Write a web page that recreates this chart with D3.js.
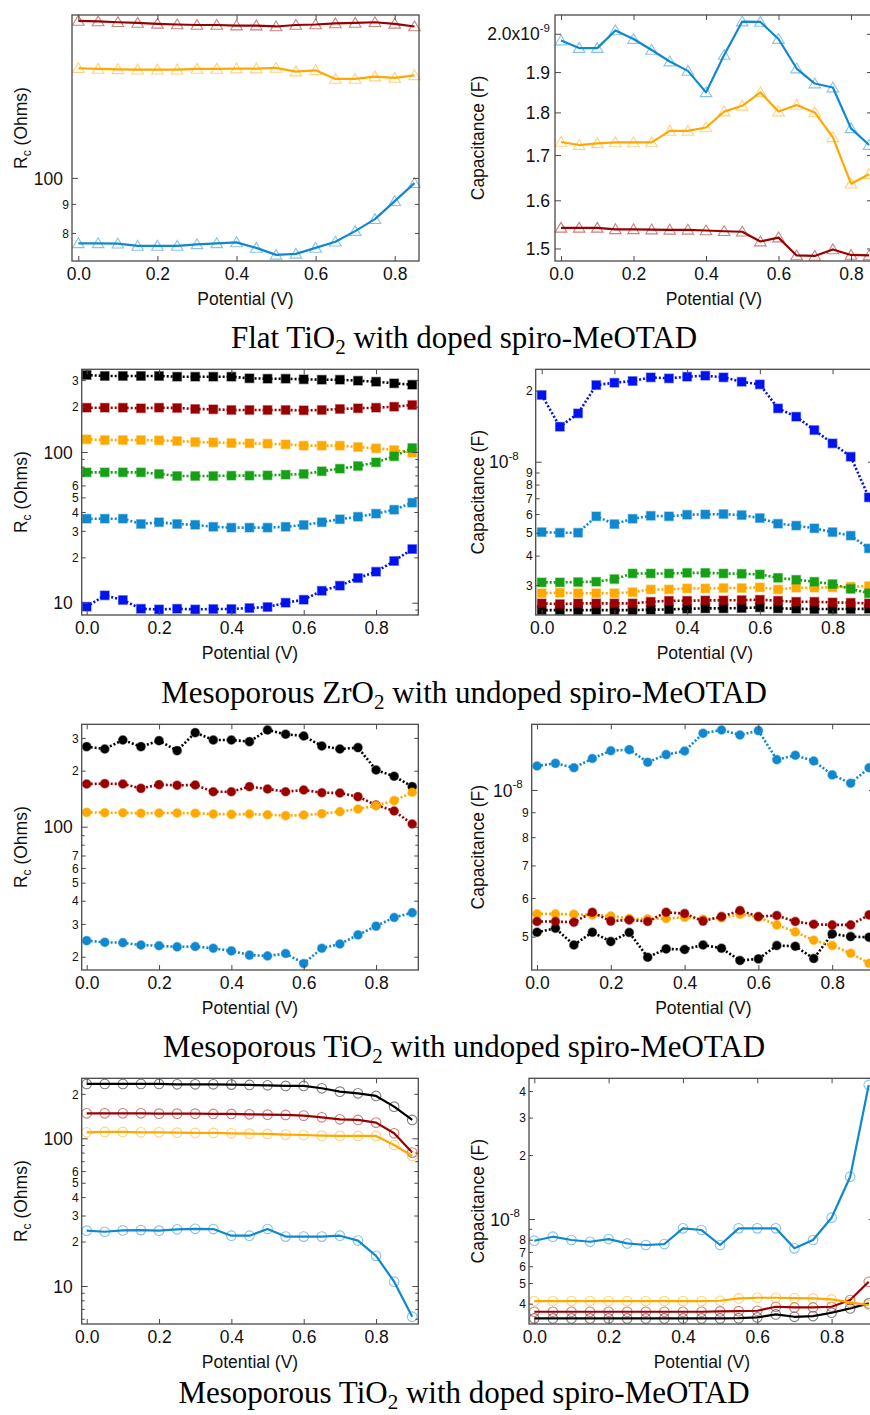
<!DOCTYPE html>
<html>
<head>
<meta charset="utf-8">
<script src="https://cdn.jsdelivr.net/npm/d3@7"></script>
<style>
body{margin:0;background:#fff;}
svg{display:block;font-family:"Liberation Sans",Arial,Helvetica,sans-serif;}
</style>
</head>
<body>
<svg id="fig" width="870" height="1415"></svg>
<script>
// potential steps (V)
var potentialFlat = [0.00,0.05,0.10,0.15,0.20,0.25,0.30,0.35,0.40,0.45,0.50,0.55,0.60,0.65,0.70,0.75,0.80,0.85];
var potentialMeso = [0.00,0.05,0.10,0.15,0.20,0.25,0.30,0.35,0.40,0.45,0.50,0.55,0.60,0.65,0.70,0.75,0.80,0.85,0.90];
var xTickValues = [0,0.2,0.4,0.6,0.8];

// flat TiO2, doped spiro : Rc (Ohms) and capacitance (nF)
var flatRcRed    = [189.0,188.6,188.0,187.5,186.8,186.3,185.9,185.9,185.5,185.5,184.8,185.9,186.3,187.1,187.5,188.0,186.8,184.8];
var flatRcOrange = [156.0,155.6,155.3,155.1,155.1,155.1,155.6,155.6,155.8,155.8,156.2,153.9,154.7,149.4,149.4,150.8,150.0,151.6];
var flatRcBlue   = [76.7,76.7,76.6,75.9,75.9,75.9,76.4,76.7,77.0,75.3,73.2,73.5,75.3,77.2,80.6,84.6,91.0,97.9];
var flatCapBlue   = [1.982,1.962,1.962,2.009,1.986,1.957,1.927,1.903,1.849,1.944,2.033,2.032,1.986,1.909,1.871,1.861,1.762,1.723];
var flatCapOrange = [1.730,1.723,1.727,1.729,1.729,1.729,1.756,1.756,1.764,1.802,1.816,1.849,1.802,1.818,1.800,1.741,1.636,1.657];
var flatCapRed    = [1.542,1.542,1.542,1.539,1.539,1.5385,1.538,1.538,1.5365,1.535,1.534,1.514,1.522,1.486,1.485,1.498,1.487,1.486];

// mesoporous ZrO2, undoped spiro
var zrRcBlack  = [324.3,319.4,319.4,319.4,319.4,316.0,316.0,316.0,316.0,308.3,306.4,306.4,303.6,301.8,301.8,297.2,292.7,285.6,279.6];
var zrRcRed    = [196.8,196.8,196.8,195.0,196.8,195.9,192.9,192.0,190.0,190.0,190.0,190.0,189.1,190.0,192.9,195.0,196.8,199.7,205.0];
var zrRcOrange = [121.4,120.1,120.1,120.1,119.5,118.3,116.5,115.9,114.7,114.2,113.6,112.4,110.2,110.2,110.2,107.9,105.8,103.1,99.0];
var zrRcGreen  = [73.3,73.3,73.3,73.3,71.5,69.3,69.3,69.3,69.7,69.7,70.0,70.7,71.5,74.5,77.5,80.7,85.4,93.6,106.3];
var zrRcLBlue  = [36.1,36.1,36.1,33.3,34.2,33.3,32.9,31.9,31.5,31.5,31.5,31.9,32.8,34.2,35.8,37.2,39.0,41.4,46.1];
var zrRcBlue   = [9.41,11.19,10.42,9.12,9.03,9.12,9.03,9.08,9.08,9.22,9.36,10.0,10.47,12.0,12.97,14.58,16.06,18.91,22.7];
var zrCapBlue   = [19.18,14.07,16.03,21.13,21.62,21.98,22.78,22.56,22.93,23.16,22.78,21.83,21.27,16.83,15.52,13.62,11.96,10.50,7.06];
var zrCapLBlue  = [5.03,5.00,5.00,5.87,5.44,5.73,5.90,5.87,5.96,5.98,6.00,5.94,5.77,5.46,5.36,5.22,5.03,4.86,4.29];
var zrCapGreen  = [3.08,3.08,3.09,3.10,3.18,3.36,3.36,3.36,3.38,3.38,3.36,3.35,3.33,3.22,3.16,3.10,3.03,2.89,2.77];
var zrCapOrange = [2.77,2.785,2.77,2.77,2.77,2.80,2.875,2.875,2.904,2.904,2.914,2.914,2.933,2.875,2.924,2.924,2.933,2.952,2.971];
var zrCapRed    = [2.509,2.492,2.509,2.509,2.509,2.509,2.549,2.574,2.574,2.583,2.583,2.591,2.600,2.574,2.549,2.549,2.533,2.525,2.509];
var zrCapBlack  = [2.350,2.350,2.350,2.350,2.350,2.350,2.358,2.366,2.381,2.389,2.389,2.397,2.413,2.389,2.381,2.374,2.374,2.374,2.381];

// mesoporous TiO2, undoped spiro
var tiuRcBlack  = [269.2,261.5,292.4,269.2,290.0,256.2,320.1,292.4,292.4,286.4,330.9,313.6,307.3,271.4,261.5,266.0,201.7,186.5,164.1];
var tiuRcRed    = [169.6,170.3,169.6,160.7,168.2,166.8,167.5,154.2,154.2,164.1,159.4,154.2,157.4,152.3,151.7,145.0,130.8,121.4,103.3];
var tiuRcOrange = [119.4,118.9,118.9,118.0,118.4,118.4,118.0,117.0,116.5,117.0,116.0,114.6,115.5,117.5,120.4,124.5,129.7,138.0,153.0];
var tiuRcLBlue  = [24.4,23.9,23.8,23.1,22.9,22.6,22.7,22.2,21.5,20.4,20.2,20.8,18.4,22.2,23.4,26.2,29.2,32.5,34.5];
var tiuCapLBlue  = [11.20,11.34,11.11,11.60,12.04,12.10,11.40,11.82,12.02,13.07,13.28,12.97,13.24,11.54,11.78,11.47,10.74,10.32,11.11];
var tiuCapRed    = [5.37,5.37,5.35,5.61,5.38,5.41,5.37,5.61,5.575,5.38,5.497,5.655,5.497,5.523,5.37,5.30,5.284,5.284,5.541];
var tiuCapOrange = [5.566,5.566,5.556,5.541,5.512,5.445,5.436,5.445,5.479,5.428,5.461,5.556,5.479,5.284,5.112,4.915,4.793,4.622,4.409];
var tiuCapBlack  = [5.104,5.200,4.806,5.104,4.884,5.097,4.536,4.718,4.704,4.806,4.733,4.465,4.500,4.793,4.778,4.507,5.065,5.000,4.985];

// mesoporous TiO2, doped spiro
var tidRcBlack  = [233.3,233.3,233.3,233.3,233.3,232.1,232.1,232.1,230.9,229.7,228.5,226.1,226.1,218.1,207.0,201.7,193.5,163.8,133.1];
var tidRcRed    = [147.7,147.7,147.7,147.7,146.9,146.9,146.9,146.2,146.2,145.4,144.6,143.9,142.4,138.7,134.5,133.1,127.7,108.1,80.0];
var tidRcOrange = [109.8,110.4,110.4,109.8,109.8,109.2,108.7,108.7,108.1,107.5,107.0,105.9,105.3,104.2,103.7,103.7,103.7,90.1,75.9];
var tidRcLBlue  = [23.7,23.3,23.8,23.9,23.7,24.2,24.4,24.3,21.9,21.9,24.3,21.6,21.6,21.6,21.9,20.3,16.0,10.7,6.2];
var tidCapLBlue  = [7.91,8.26,7.97,7.82,8.05,7.68,7.55,7.63,9.04,8.88,7.55,9.04,9.04,9.04,7.28,7.97,10.15,15.82,42.7];
var tidCapOrange = [4.114,4.114,4.114,4.114,4.114,4.114,4.114,4.114,4.114,4.114,4.129,4.234,4.266,4.266,4.250,4.234,4.189,4.055,3.940];
var tidCapRed    = [3.665,3.665,3.665,3.665,3.665,3.665,3.665,3.665,3.665,3.665,3.680,3.690,3.705,3.869,3.841,3.841,3.869,4.159,5.073];
var tidCapBlack  = [3.410,3.410,3.410,3.410,3.410,3.410,3.410,3.410,3.410,3.410,3.410,3.420,3.447,3.560,3.471,3.497,3.626,3.801,4.012];

// y tick values and their labels
var flatRcTicks = [80,90,100];
var flatRcLabels = ['8','9','100'];
var flatCapTicks = [1.5,1.6,1.7,1.8,1.9,2.0];
var flatCapLabels = ['1.5','1.6','1.7','1.8','1.9','2.0x10^-9'];
var zrRcTicks = [9,10,20,30,40,50,60,70,80,90,100,200,300];
var zrRcLabels = ['','10','2','3','4','5','6','','','','100','2','3'];
var zrCapTicks = [3,4,5,6,7,8,9,10,20];
var zrCapLabels = ['3','4','5','6','7','8','9','10^-8','2'];
var tiuRcTicks = [20,30,40,50,60,70,80,90,100,200,300];
var tiuRcLabels = ['2','3','4','5','6','7','','','100','2','3'];
var tiuCapTicks = [5,6,7,8,9,10];
var tiuCapLabels = ['5','6','7','8','9','10^-8'];
var tidRcTicks = [6,7,8,9,10,20,30,40,50,60,70,80,90,100,200];
var tidRcLabels = ['','','','','10','2','3','4','5','6','','','','100','2'];
var tidCapTicks = [4,5,6,7,8,9,10,20,30,40];
var tidCapLabels = ['4','5','6','7','8','','10^-8','2','3','4'];

var titles = [
  ['Flat TiO','2',' with doped spiro-MeOTAD'],
  ['Mesoporous ZrO','2',' with undoped spiro-MeOTAD'],
  ['Mesoporous TiO','2',' with undoped spiro-MeOTAD'],
  ['Mesoporous TiO','2',' with doped spiro-MeOTAD']
];

var colors = {red:'#990000', orange:'#ffa800', lblue:'#1088cf', blue:'#0012ee', green:'#15a015', black:'#000000'};

var panels = [
  {box:[72,15,419,261], xdom:[-0.016,0.8614], ydom:[71.4,193.6], ticks:flatRcTicks, labels:flatRcLabels, gap:9, ytitle:'rc', tshift:-10,
   marker:'tri', dash:null, x:potentialFlat, series:[['red',flatRcRed],['orange',flatRcOrange],['lblue',flatRcBlue]]},
  {box:[555,15,873,261], xdom:[-0.0166,0.8607], ydom:[1.475,2.051], ticks:flatCapTicks, labels:flatCapLabels, gap:5, ytitle:'cap',
   marker:'tri', dash:null, x:potentialFlat, series:[['lblue',flatCapBlue],['orange',flatCapOrange],['red',flatCapRed]]},
  {box:[81.7,369.3,418.3,615], xdom:[-0.0138,0.9168], ydom:[8.29,353.8], ticks:zrRcTicks, labels:zrRcLabels, gap:9, ytitle:'rc',
   marker:'sq', dash:'2,2', x:potentialMeso, series:[['black',zrRcBlack],['red',zrRcRed],['orange',zrRcOrange],['green',zrRcGreen],['lblue',zrRcLBlue],['blue',zrRcBlue]]},
  {box:[535.7,369.3,874,615], xdom:[-0.0165,0.914], ydom:[2.24,24.65], ticks:zrCapTicks, labels:zrCapLabels, gap:17, ytitle:'cap',
   marker:'sq', dash:'2,2', x:potentialMeso, series:[['black',zrCapBlack],['red',zrCapRed],['orange',zrCapOrange],['green',zrCapGreen],['lblue',zrCapLBlue],['blue',zrCapBlue]]},
  {box:[81.7,724.3,418.3,970], xdom:[-0.0138,0.9168], ydom:[16.97,355], ticks:tiuRcTicks, labels:tiuRcLabels, gap:9, ytitle:'rc',
   marker:'dot', dash:'2,2', x:potentialMeso, series:[['black',tiuRcBlack],['red',tiuRcRed],['orange',tiuRcOrange],['lblue',tiuRcLBlue]]},
  {box:[531.7,724.3,875,970], xdom:[-0.01436,0.916], ydom:[4.27,13.64], ticks:tiuCapTicks, labels:tiuCapLabels, gap:9, ytitle:'cap',
   marker:'dot', dash:'2,2', x:potentialMeso, series:[['black',tiuCapBlack],['orange',tiuCapOrange],['red',tiuCapRed],['lblue',tiuCapLBlue]]},
  {box:[81.7,1078.3,418.3,1324], xdom:[-0.0138,0.9168], ydom:[5.53,254.8], ticks:tidRcTicks, labels:tidRcLabels, gap:9, ytitle:'rc',
   marker:'ring', dash:null, x:potentialMeso, series:[['black',tidRcBlack],['red',tidRcRed],['orange',tidRcOrange],['lblue',tidRcLBlue]]},
  {box:[529,1078.3,874.7,1324], xdom:[-0.01426,0.916], ydom:[3.21,45.9], ticks:tidCapTicks, labels:tidCapLabels, gap:9, ytitle:'cap',
   marker:'ring', dash:null, x:potentialMeso, series:[['black',tidCapBlack],['red',tidCapRed],['orange',tidCapOrange],['lblue',tidCapLBlue]]}
];

var titleBaselines = [348,703,1057,1403];

var svg = d3.select('#fig');
var axisColor = '#4a4a4a';

function styleTicks(sel){
  sel.select('.domain').remove();
  sel.selectAll('.tick line').attr('stroke',axisColor).attr('stroke-width',1);
  sel.attr('font-family',null).attr('font-size',null);
}

panels.forEach(function(p){
  var left = p.box[0], top = p.box[1], right = p.box[2], bottom = p.box[3];
  var g = svg.append('g');
  var x = d3.scaleLinear().domain(p.xdom).range([left,right]);
  var y = d3.scaleLog().domain(p.ydom).range([bottom,top]);

  // series: line then markers
  p.series.forEach(function(s){
    var col = colors[s[0]];
    var pts = s[1].map(function(v,i){return [p.x[i],v];});
    var line = d3.line().x(function(d){return x(d[0]);}).y(function(d){return y(d[1]);});
    g.append('path').datum(pts)
      .attr('d',line).attr('fill','none').attr('stroke',col)
      .attr('stroke-width',p.dash ? 2.6 : 2.2)
      .attr('stroke-dasharray',p.dash)
      .attr('stroke-linejoin','round');
    var m = g.selectAll(null).data(pts).enter();
    if (p.marker=='tri') {
      m.append('path').attr('d','M0,-5.5L5.8,4.3L-5.8,4.3Z')
        .attr('transform',function(d){return 'translate('+x(d[0])+','+y(d[1])+')';})
        .attr('fill','none').attr('stroke',col).attr('stroke-opacity',0.5).attr('stroke-width',1.1);
    } else if (p.marker=='sq') {
      m.append('rect').attr('x',function(d){return x(d[0])-4.3;}).attr('y',function(d){return y(d[1])-4.3;})
        .attr('width',8.6).attr('height',8.6)
        .attr('fill',col).attr('stroke',col).attr('stroke-opacity',0.45).attr('stroke-width',1.4);
    } else if (p.marker=='dot') {
      m.append('circle').attr('cx',function(d){return x(d[0]);}).attr('cy',function(d){return y(d[1]);})
        .attr('r',4.3).attr('fill',col).attr('stroke',col).attr('stroke-opacity',0.45).attr('stroke-width',1.4);
    } else {
      m.append('circle').attr('cx',function(d){return x(d[0]);}).attr('cy',function(d){return y(d[1]);})
        .attr('r',4.8).attr('fill','none').attr('stroke',col).attr('stroke-opacity',0.5).attr('stroke-width',1.1);
    }
  });

  // frame
  g.append('rect').attr('x',left).attr('y',top).attr('width',right-left).attr('height',bottom-top)
    .attr('fill','none').attr('stroke',axisColor).attr('stroke-width',1.3);

  // x axes, ticks pointing inward
  var xb = g.append('g').attr('transform','translate(0,'+bottom+')')
    .call(d3.axisBottom(x).tickValues(xTickValues).tickFormat(d3.format('.1f')).tickSizeInner(-5).tickSizeOuter(0).tickPadding(7));
  styleTicks(xb);
  xb.selectAll('.tick text').attr('font-size',17.5).attr('fill','#111');
  var xt = g.append('g').attr('transform','translate(0,'+top+')')
    .call(d3.axisTop(x).tickValues(xTickValues).tickFormat('').tickSizeInner(-5).tickSizeOuter(0));
  styleTicks(xt);

  // y axes
  var yl = g.append('g').attr('transform','translate('+left+',0)')
    .call(d3.axisLeft(y).tickValues(p.ticks).tickFormat('').tickSizeInner(-4).tickSizeOuter(0));
  styleTicks(yl);
  var yr = g.append('g').attr('transform','translate('+right+',0)')
    .call(d3.axisRight(y).tickValues(p.ticks).tickFormat('').tickSizeInner(-4).tickSizeOuter(0));
  styleTicks(yr);

  [yl,yr].forEach(function(ax,k){
    ax.selectAll('.tick line').attr('x2',function(d){
      var lab = p.labels[p.ticks.indexOf(d)];
      var len = lab.length>1 ? 6 : (lab ? 4 : 3);
      return k==0 ? len : -len;
    });
  });

  yl.selectAll('.tick text').each(function(d){
    var lab = p.labels[p.ticks.indexOf(d)];
    var t = d3.select(this).attr('fill','#111').attr('dy','0.35em');
    if (!lab) return;
    var big = lab.length>1;
    t.attr('x',-(big ? p.gap : 3)).attr('font-size',big ? 17.5 : 12);
    var parts = lab.split('^');
    t.text(parts[0]);
    if (parts[1]) t.append('tspan').attr('font-size',11.5).attr('dy','-0.75em').text(parts[1]);
  });

  // y title
  var cx = left < 300 ? 21 : 478;
  var cy = (top+bottom)/2 + (p.tshift||0);
  var yt = g.append('text').attr('transform','translate('+cx+','+cy+') rotate(-90)')
    .attr('text-anchor','middle').attr('dy','0.35em').attr('font-size',17.5).attr('fill','#111');
  if (p.ytitle=='rc') {
    yt.text('R');
    yt.append('tspan').attr('font-size',12).attr('dy',4).text('c');
    yt.append('tspan').attr('dy',-4).text(' (Ohms)');
  } else {
    yt.text('Capacitance (F)');
  }

  // x title
  g.append('text').attr('x',(left+right)/2).attr('y',bottom+44)
    .attr('text-anchor','middle').attr('font-size',17.5).attr('fill','#111').text('Potential (V)');
});

// section titles
titles.forEach(function(t,i){
  var tx = svg.append('text').attr('x',464).attr('y',titleBaselines[i]).attr('text-anchor','middle')
    .attr('font-family','"Liberation Serif","Times New Roman",serif').attr('font-size',31).attr('fill','#000');
  tx.append('tspan').text(t[0]);
  tx.append('tspan').attr('font-size',21).attr('dy',6).text(t[1]);
  tx.append('tspan').attr('dy',-6).text(t[2]);
});
</script>
</body>
</html>
